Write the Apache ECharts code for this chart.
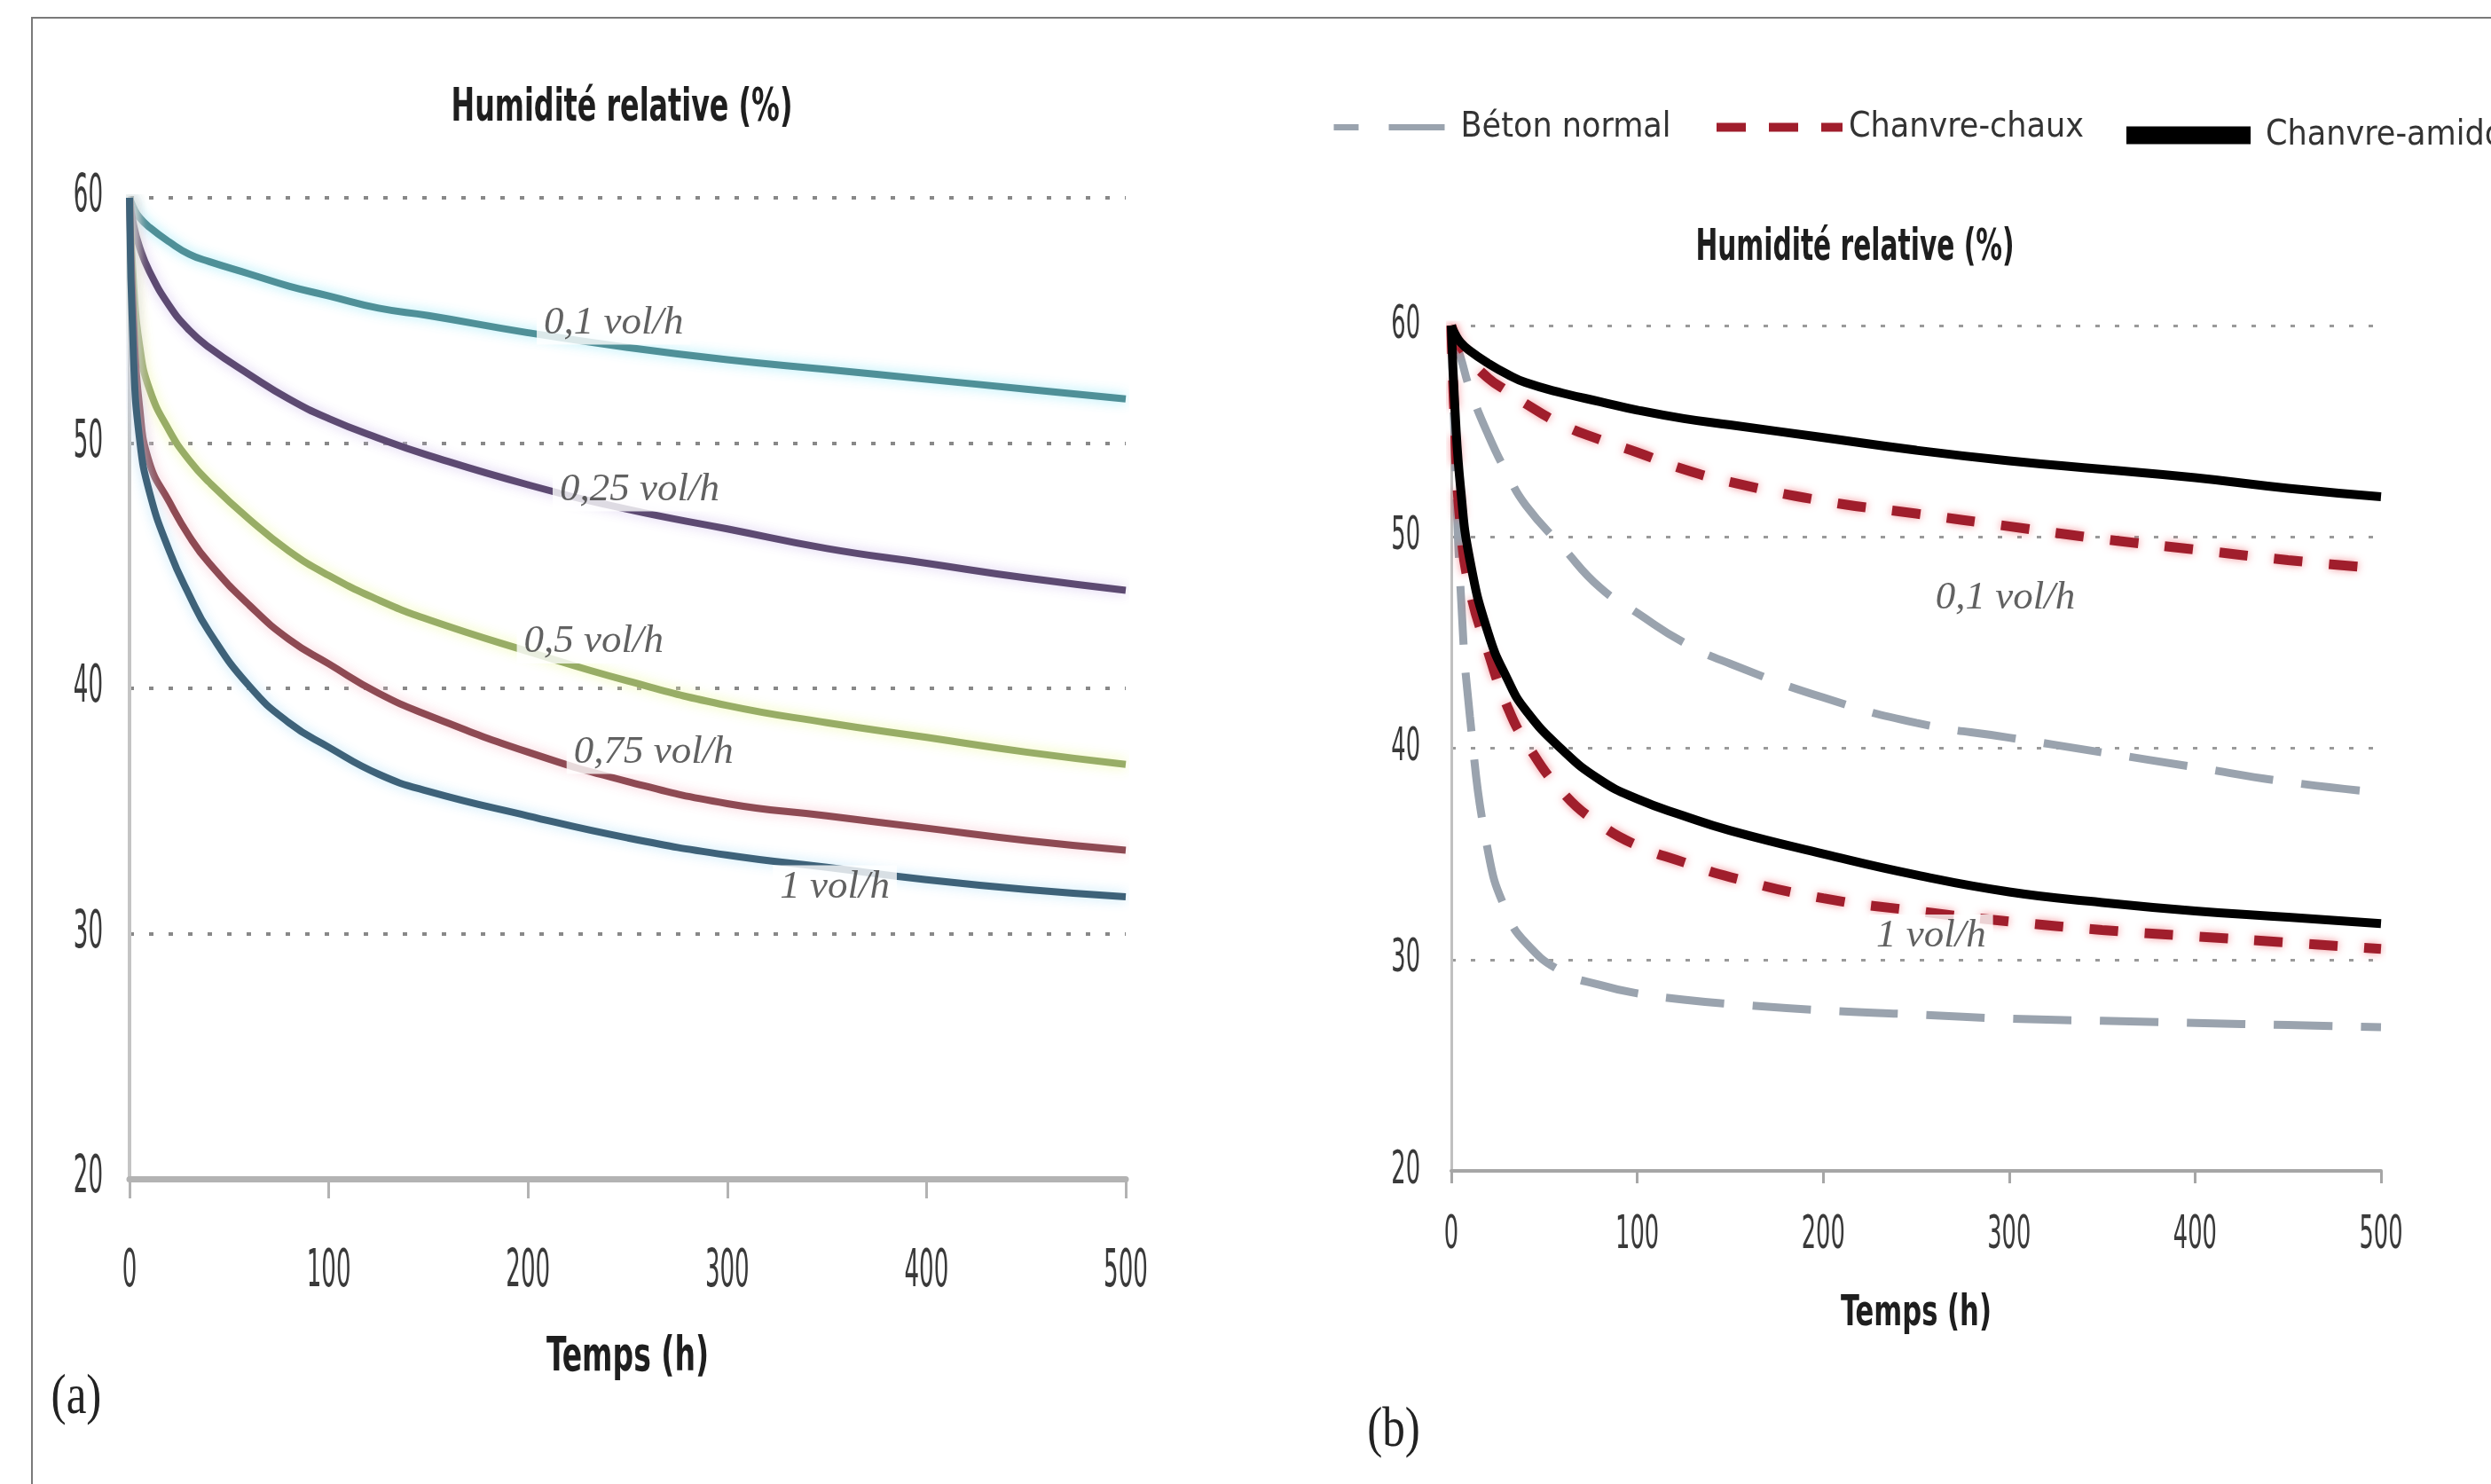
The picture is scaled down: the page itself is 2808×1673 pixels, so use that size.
<!DOCTYPE html>
<html>
<head>
<meta charset="utf-8">
<title>Humidité relative</title>
<script src="https://cdn.jsdelivr.net/npm/echarts@6/dist/echarts.min.js"></script>
<style>
  html, body { margin: 0; padding: 0; background: #fff; }
  #chart { width: 2808px; height: 1673px; }
</style>
</head>
<body>
<div id="chart"></div>
<script>
// time samples (h), shared by every curve
var hours = [0, 2, 5, 10, 20, 30, 40, 60, 80, 100, 125, 150, 200, 250, 300, 350, 400, 450, 500];
var timeTicks = [0, 100, 200, 300, 400, 500];
var rhTicks = [20, 30, 40, 50, 60];

// (a) relative humidity for each air change rate
var rateNames = ['0,1 vol/h', '0,25 vol/h', '0,5 vol/h', '0,75 vol/h', '1 vol/h'];
var rh01 = [60, 59.6, 59.2, 58.8, 58.2, 57.7, 57.4, 56.9, 56.4, 56.0, 55.5, 55.2, 54.5, 53.9, 53.4, 53.0, 52.6, 52.2, 51.8];
var rh025 = [60, 58.9, 58.0, 57.0, 55.6, 54.6, 53.9, 52.8, 51.8, 51.0, 50.2, 49.5, 48.3, 47.3, 46.5, 45.7, 45.1, 44.5, 44.0];
var rh05 = [60, 56.5, 54.0, 52.2, 50.5, 49.3, 48.4, 46.9, 45.6, 44.6, 43.6, 42.8, 41.5, 40.3, 39.3, 38.6, 38.0, 37.4, 36.9];
var rh075 = [60, 55.0, 51.5, 49.2, 47.6, 46.2, 45.1, 43.4, 42.0, 41.0, 39.8, 38.9, 37.4, 36.2, 35.3, 34.8, 34.3, 33.8, 33.4];
var rh1 = [60, 53.5, 50.2, 48.0, 45.6, 43.8, 42.3, 40.1, 38.6, 37.6, 36.5, 35.8, 34.8, 33.9, 33.2, 32.7, 32.2, 31.8, 31.5];

// (b) materials, at 0,1 vol/h and 1 vol/h
var materials = ['Béton normal', 'Chanvre-chaux', 'Chanvre-amidon'];
var betonSlow = [60, 59.3, 58.5, 57.0, 54.8, 53.0, 51.5, 49.5, 47.6, 46.4, 45.0, 44.0, 42.4, 41.2, 40.5, 39.8, 39.1, 38.4, 37.9];
var chauxSlow = [60, 59.5, 59.0, 58.4, 57.5, 56.9, 56.3, 55.3, 54.6, 54.0, 53.2, 52.6, 51.7, 51.1, 50.5, 49.9, 49.4, 48.9, 48.5];
var amidonSlow = [60, 59.6, 59.2, 58.8, 58.2, 57.7, 57.3, 56.8, 56.4, 56.0, 55.6, 55.3, 54.7, 54.1, 53.6, 53.2, 52.8, 52.3, 51.9];
var betonFast = [60, 54.0, 47.5, 41.5, 35.0, 32.2, 30.8, 29.4, 28.8, 28.4, 28.1, 27.9, 27.6, 27.4, 27.2, 27.1, 27.0, 26.9, 26.8];
var chauxFast = [60, 55.0, 50.5, 47.5, 44.5, 42.0, 40.3, 37.9, 36.4, 35.4, 34.6, 33.9, 32.9, 32.3, 31.8, 31.4, 31.1, 30.8, 30.5];
var amidonFast = [60, 56.0, 52.3, 48.9, 45.4, 43.3, 41.8, 39.9, 38.5, 37.6, 36.8, 36.1, 35.0, 34.0, 33.2, 32.7, 32.3, 32.0, 31.7];

// where the in-plot rate labels sit, in data units [h, %]
var labelSpotsA = [[243, 54.9], [256, 48.1], [233, 41.9], [263, 37.4], [354, 31.9]];
var labelTextB = ['0,1 vol/h', '1 vol/h'];
var labelSpotsB = [[298, 47.1], [258, 31.1]];

var narrow = "'DejaVu Sans Condensed', 'DejaVu Sans', sans-serif";
var serif = "'Liberation Serif', 'DejaVu Serif', serif";

function pts(vals) {
  return hours.map(function (h, i) {
    return [h, vals[i]];
  });
}

function curveA(name, vals, color, glow) {
  return {
    name: name,
    type: 'line',
    xAxisIndex: 0,
    yAxisIndex: 0,
    data: pts(vals),
    smooth: 0.5,
    symbol: 'none',
    z: 3,
    lineStyle: { color: color, width: 8, shadowColor: glow, shadowBlur: 14 },
  };
}

function curveB(name, vals, style) {
  return {
    name: name,
    type: 'line',
    xAxisIndex: 1,
    yAxisIndex: 1,
    data: pts(vals),
    smooth: 0.5,
    symbol: 'none',
    z: 3,
    itemStyle: { color: style.color },
    lineStyle: style,
  };
}

var betonStyle = { color: '#9aa3ae', width: 9, type: [66, 32] };
var chauxStyle = { color: '#a01e2c', width: 11, type: [32, 30], shadowColor: 'rgba(235,70,80,0.55)', shadowBlur: 10 };
var amidonStyle = { color: '#000', width: 10 };

function labelSeries(xi, spots, texts) {
  return {
    type: 'scatter',
    xAxisIndex: xi,
    yAxisIndex: xi,
    silent: true,
    z: 10,
    symbolSize: 1,
    itemStyle: { color: 'rgba(0,0,0,0)' },
    data: spots.map(function (s, i) {
      return { value: s, name: texts[i] };
    }),
    label: {
      show: true,
      position: 'inside',
      formatter: '{b}',
      fontFamily: serif,
      fontStyle: 'italic',
      fontSize: 45,
      color: '#3a3a3a',
      backgroundColor: '#fff',
      padding: [2, 8],
    },
  };
}

function legendItem(name, left, top, width, lineStyle, gap) {
  return {
    data: [name],
    left: left,
    top: top,
    itemWidth: width,
    itemHeight: 20,
    selectedMode: false,
    lineStyle: lineStyle,
    itemStyle: { opacity: 0, color: 'rgba(0,0,0,0)', borderWidth: 0 },
    textStyle: { fontFamily: narrow, fontSize: 39, color: '#333', padding: [0, 0, 0, gap] },
  };
}

function axisX(gi, lineColor, lineWidth, tickLen) {
  return {
    gridIndex: gi,
    type: 'value',
    min: timeTicks[0],
    max: timeTicks[timeTicks.length - 1],
    interval: timeTicks[1] - timeTicks[0],
    axisLine: { show: true, lineStyle: { color: lineColor, width: lineWidth } },
    axisTick: { show: true, length: tickLen, lineStyle: { color: lineColor, width: 3 } },
    axisLabel: { show: false },
    splitLine: { show: false },
  };
}

function axisY(gi, lineColor, lineWidth, gridColor, gridWidth) {
  return {
    gridIndex: gi,
    type: 'value',
    min: rhTicks[0],
    max: rhTicks[rhTicks.length - 1],
    interval: rhTicks[1] - rhTicks[0],
    axisLine: { show: true, lineStyle: { color: lineColor, width: lineWidth } },
    axisTick: { show: false },
    axisLabel: { show: false },
    splitLine: { show: true, lineStyle: { color: gridColor, width: gridWidth, type: [5, 17] } },
  };
}

// condensed text (the source figure uses squeezed lettering)
function txt(id, text, x, y, size, sx, align, bold, color) {
  return {
    type: 'text',
    id: id,
    x: x,
    y: y,
    scaleX: sx,
    silent: true,
    style: {
      text: text,
      fill: color || '#3a3a3a',
      font: (bold ? 'bold ' : '') + size + 'px ' + narrow,
      align: align,
      verticalAlign: 'middle',
    },
  };
}

let myChart = echarts.init(document.getElementById('chart'));
var option;
option = {
  animation: false,
  backgroundColor: '#fff',
  grid: [
    { left: 146, right: 1539, top: 223, bottom: 344 },
    { left: 1636, right: 124, top: 367, bottom: 353 },
  ],
  legend: [
    legendItem(materials[0], 1495, 119, 125, { width: 7, type: [28, 34, 64, 40] }, 13),
    legendItem(materials[1], 1925, 119, 142, { width: 10, type: [33, 26] }, 2),
    legendItem(materials[2], 2382, 128, 140, { width: 20, type: 'solid' }, 12),
  ],
  xAxis: [axisX(0, '#b3b3b3', 7, 22), axisX(1, '#a6a6a6', 4, 14)],
  yAxis: [axisY(0, '#c4c4c4', 4, '#888', 4), axisY(1, '#c0c0c0', 3, '#9a9a9a', 3)],
  series: [
    curveA(rateNames[0], rh01, '#4f9098', 'rgba(160,235,250,0.9)'),
    curveA(rateNames[1], rh025, '#5d4a72', 'rgba(215,200,240,0.9)'),
    curveA(rateNames[2], rh05, '#98ad66', 'rgba(240,250,170,0.9)'),
    curveA(rateNames[3], rh075, '#8e4a53', 'rgba(250,200,210,0.9)'),
    curveA(rateNames[4], rh1, '#3e6279', 'rgba(190,230,250,0.9)'),
    curveB(materials[0], betonSlow, betonStyle),
    curveB(materials[0], betonFast, betonStyle),
    curveB(materials[1], chauxSlow, chauxStyle),
    curveB(materials[1], chauxFast, chauxStyle),
    curveB(materials[2], amidonSlow, amidonStyle),
    curveB(materials[2], amidonFast, amidonStyle),
    labelSeries(0, labelSpotsA, rateNames),
    labelSeries(1, labelSpotsB, labelTextB),
  ],
};
option && myChart.setOption(option);

// tick labels, axis names and titles, placed through the axes' own scales
function placeTexts() {
  var g = [
    {
      type: 'rect',
      id: 'frame',
      silent: true,
      z: -1,
      shape: { x: 36, y: 20, width: 2900, height: 1800 },
      style: { fill: 'none', stroke: '#7a7a7a', lineWidth: 2 },
    },
  ];
  var setup = [
    { gi: 0, size: 58, sx: 0.5, xGap: 106, yGap: 30, name: 54, nameSx: 0.68, nameGap: 202 },
    { gi: 1, size: 52, sx: 0.55, xGap: 73, yGap: 35, name: 48, nameSx: 0.71, nameGap: 162 },
  ];
  setup.forEach(function (s) {
    timeTicks.forEach(function (t, i) {
      var p = myChart.convertToPixel({ gridIndex: s.gi }, [t, rhTicks[0]]);
      g.push(txt('x' + s.gi + i, String(t), p[0], p[1] + s.xGap, s.size, s.sx, 'center'));
    });
    rhTicks.forEach(function (v, i) {
      var p = myChart.convertToPixel({ gridIndex: s.gi }, [timeTicks[0], v]);
      g.push(txt('y' + s.gi + i, String(v), p[0] - s.yGap, p[1], s.size, s.sx, 'right'));
    });
    var a = myChart.convertToPixel({ gridIndex: s.gi }, [timeTicks[0], rhTicks[0]]);
    var b = myChart.convertToPixel({ gridIndex: s.gi }, [timeTicks[timeTicks.length - 1], rhTicks[0]]);
    g.push(txt('name' + s.gi, 'Temps (h)', (a[0] + b[0]) / 2, a[1] + s.nameGap, s.name, s.nameSx, 'center', true, '#1e1e1e'));
  });
  g.push(txt('titleA', 'Humidité relative (%)', 701, 122, 52, 0.68, 'center', true, '#1e1e1e'));
  g.push(txt('titleB', 'Humidité relative (%)', 2091, 280, 50, 0.66, 'center', true, '#1e1e1e'));
  g.push({
    type: 'text', id: 'tagA', x: 86, y: 1576, silent: true, scaleX: 0.8,
    style: { text: '(a)', fill: '#222', font: '64px ' + serif, align: 'center', verticalAlign: 'middle' },
  });
  g.push({
    type: 'text', id: 'tagB', x: 1571, y: 1613, silent: true, scaleX: 0.8,
    style: { text: '(b)', fill: '#222', font: '64px ' + serif, align: 'center', verticalAlign: 'middle' },
  });
  myChart.setOption({ graphic: g });
}
placeTexts();

window.addEventListener('resize', () => {
  myChart.resize();
  placeTexts();
});
</script>
</body>
</html>
